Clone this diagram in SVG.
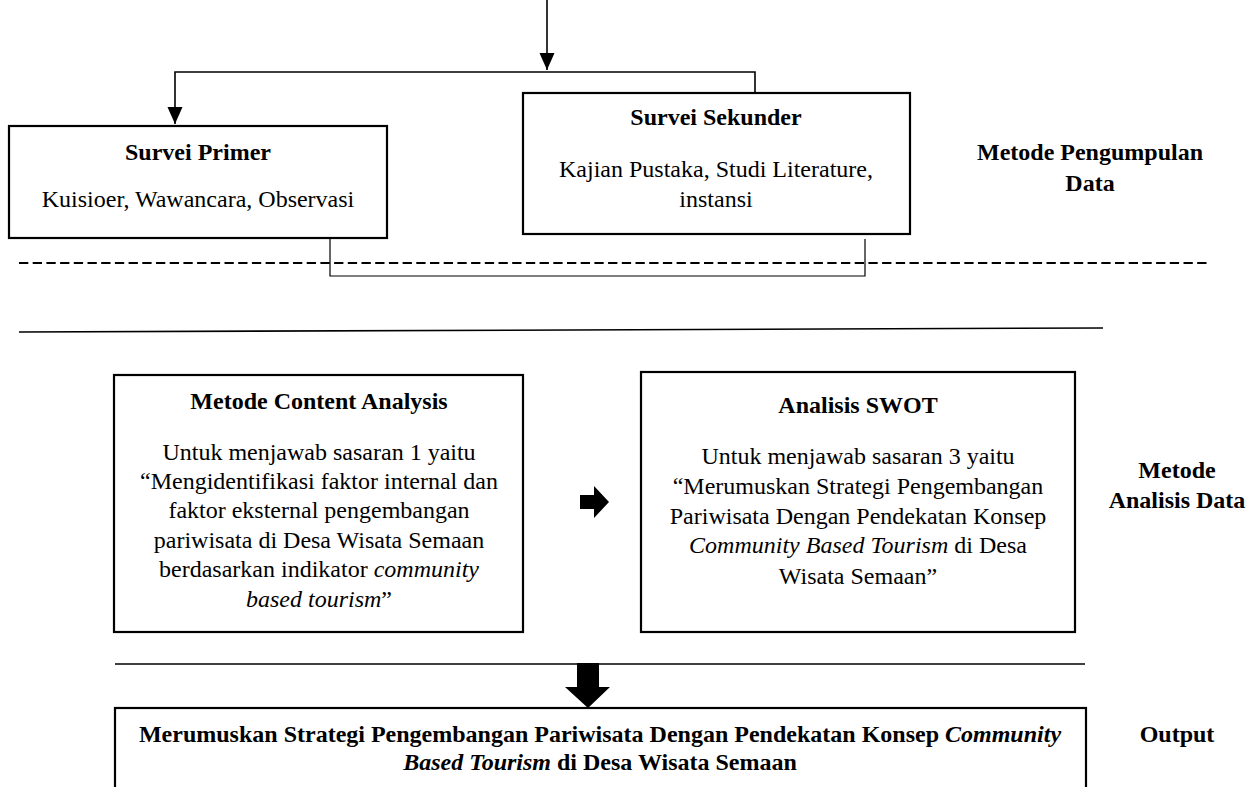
<svg xmlns="http://www.w3.org/2000/svg" width="1259" height="787" viewBox="0 0 1259 787">
<defs>
<style>
.box{fill:#fff;stroke:#000;stroke-width:2.2}
.t{font-family:"Liberation Serif","Times New Roman",serif;font-size:24px;fill:#000;text-anchor:middle}
.b{font-weight:bold}
.ln{fill:none;stroke:#000;stroke-width:1.6}
.thin{fill:none;stroke:#000;stroke-width:1.2}
.dash{fill:none;stroke:#000;stroke-width:2;stroke-dasharray:9.3 4.4}
</style>
<marker id="ah" markerWidth="16" markerHeight="18" refX="8" refY="17" orient="0" markerUnits="userSpaceOnUse">
<path d="M0.5,0 L15.5,0 L8,17 Z" fill="#000"/>
</marker>
</defs>
<rect width="1259" height="787" fill="#fff"/>

<g id="connectors">
<line class="ln" x1="547" y1="0" x2="547" y2="70" marker-end="url(#ah)"/>
<polyline class="ln" points="755,93 755,72 175,72 175,124" marker-end="url(#ah)"/>
<polyline class="thin" points="330,238 330,276 865,276 865,239"/>
<polygon points="580,495 594,495 594,486 609,502 594,518 594,509 580,509" fill="#000"/>
<polygon points="577,663 599,663 599,687 610,687 588,708 565,687 577,687" fill="#000"/>
</g>

<g id="dividers">
<line class="dash" x1="19" y1="263" x2="1210" y2="263"/>
<line class="ln" x1="19" y1="332" x2="1103" y2="328"/>
<line class="ln" x1="115" y1="664" x2="1085" y2="664"/>
</g>

<g id="survei-primer">
<rect class="box" x="9" y="126" width="378" height="112"/>
<text class="t b" x="198" y="160">Survei Primer</text>
<text class="t" x="198" y="207">Kuisioer, Wawancara, Observasi</text>
</g>

<g id="survei-sekunder">
<rect class="box" x="523" y="93" width="387" height="141"/>
<text class="t b" x="716" y="125">Survei Sekunder</text>
<text class="t" x="716" y="177">Kajian Pustaka, Studi Literature,</text>
<text class="t" x="716" y="207">instansi</text>
</g>

<g id="label-pengumpulan">
<text class="t b" x="1090" y="160">Metode Pengumpulan</text>
<text class="t b" x="1090" y="191">Data</text>
</g>

<g id="content-analysis">
<rect class="box" x="114" y="375" width="409" height="257"/>
<text class="t b" x="319" y="409">Metode Content Analysis</text>
<text class="t" x="319" y="460">Untuk menjawab sasaran 1 yaitu</text>
<text class="t" x="319" y="489">“Mengidentifikasi faktor internal dan</text>
<text class="t" x="319" y="518">faktor eksternal pengembangan</text>
<text class="t" x="319" y="548">pariwisata di Desa Wisata Semaan</text>
<text class="t" x="319" y="577">berdasarkan indikator <tspan font-style="italic">community</tspan></text>
<text class="t" x="319" y="607"><tspan font-style="italic">based tourism</tspan>”</text>
</g>

<g id="analisis-swot">
<rect class="box" x="641" y="372" width="434" height="260"/>
<text class="t b" x="858" y="413">Analisis SWOT</text>
<text class="t" x="858" y="464">Untuk menjawab sasaran 3 yaitu</text>
<text class="t" x="858" y="494">“Merumuskan Strategi Pengembangan</text>
<text class="t" x="858" y="524">Pariwisata Dengan Pendekatan Konsep</text>
<text class="t" x="858" y="553"><tspan font-style="italic">Community Based Tourism</tspan> di Desa</text>
<text class="t" x="858" y="584">Wisata Semaan”</text>
</g>

<g id="label-analisis">
<text class="t b" x="1177" y="478">Metode</text>
<text class="t b" x="1177" y="508">Analisis Data</text>
</g>

<g id="output">
<rect class="box" x="115" y="708" width="971" height="100"/>
<text class="t b" x="600" y="742">Merumuskan Strategi Pengembangan Pariwisata Dengan Pendekatan Konsep <tspan font-style="italic">Community</tspan></text>
<text class="t b" x="600" y="770"><tspan font-style="italic">Based Tourism</tspan> di Desa Wisata Semaan</text>
</g>

<g id="label-output">
<text class="t b" x="1177" y="742">Output</text>
</g>
</svg>
